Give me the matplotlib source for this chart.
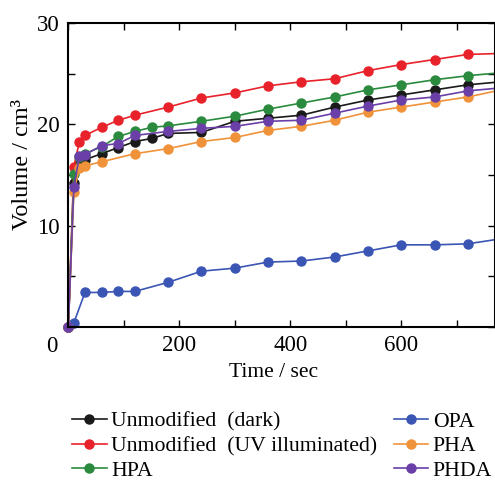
import numpy as np
from matplotlib import pyplot
from matplotlib.ticker import MultipleLocator

pyplot.rcParams['font.family'] = ['Liberation Serif', 'DejaVu Serif']

# gas volume evolved over time for each sample
t_red = [0, 10, 20, 30, 60, 90, 120, 180, 240, 300, 360, 420, 480, 540, 600, 660, 720, 780]
v_red = [0, 15.8, 18.3, 18.9, 19.7, 20.4, 20.9, 21.7, 22.6, 23.1, 23.8, 24.2, 24.5, 25.3,
         25.9, 26.4, 26.9, 27.0]

t_dark = [0, 10, 20, 30, 60, 90, 120, 150, 180, 240, 300, 360, 420, 480, 540, 600, 660, 720, 780]
v_dark = [0, 14.2, 16.2, 16.5, 17.1, 17.7, 18.3, 18.6, 19.1, 19.2, 20.3, 20.6, 20.9, 21.7,
          22.4, 22.9, 23.4, 23.9, 24.2]

t_hpa = [0, 10, 20, 30, 60, 90, 120, 150, 180, 240, 300, 360, 420, 480, 540, 600, 660, 720, 780]
v_hpa = [0, 15.1, 16.8, 17.1, 17.8, 18.8, 19.3, 19.7, 19.85, 20.3, 20.8, 21.5, 22.1, 22.7,
         23.4, 23.9, 24.4, 24.8, 25.1]

t_opa = [0, 10, 30, 60, 90, 120, 180, 240, 300, 360, 420, 480, 540, 600, 660, 720, 780]
v_opa = [0, 0.4, 3.4, 3.4, 3.5, 3.5, 4.4, 5.5, 5.8, 6.4, 6.5, 6.9, 7.5, 8.1, 8.1, 8.2, 8.7]

t_pha = [0, 10, 20, 30, 60, 120, 180, 240, 300, 360, 420, 480, 540, 600, 660, 720, 780]
v_pha = [0, 13.3, 15.7, 15.9, 16.3, 17.1, 17.6, 18.3, 18.7, 19.4, 19.8, 20.4, 21.2, 21.7,
         22.2, 22.7, 23.4]

t_phda = [0, 10, 20, 30, 60, 90, 120, 180, 240, 300, 360, 420, 480, 540, 600, 660, 720, 780]
v_phda = [0, 13.8, 16.9, 17.0, 17.9, 18.1, 18.9, 19.3, 19.6, 19.8, 20.3, 20.4, 21.1, 21.8,
          22.4, 22.7, 23.3, 23.6]

series = [
    ('Unmodified  (dark)', t_dark, v_dark, '#1a1a1a'),
    ('Unmodified  (UV illuminated)', t_red, v_red, '#e8222a'),
    ('HPA', t_hpa, v_hpa, '#2a8a3e'),
    ('OPA', t_opa, v_opa, '#3a55b4'),
    ('PHA', t_pha, v_pha, '#f0923a'),
    ('PHDA', t_phda, v_phda, '#6a3fa8'),
]

fig = pyplot.figure(figsize=(4.95, 4.8), dpi=100)
ax = fig.add_axes([0.138, 0.319, 0.862, 0.633])

for label, t, v, color in series:
    # markers at the origin sit on the spines, so don't clip them
    ax.plot(t, v, '-o', color=color, label=label, lw=1.2, ms=6.5, clip_on=False)

ax.set_xlim(0, 769)
ax.set_ylim(0, 30)
ax.xaxis.set_minor_locator(MultipleLocator(100))
ax.yaxis.set_minor_locator(MultipleLocator(5))
ax.set_xticks([200, 400, 600])
ax.set_yticks([10, 20, 30])
ax.tick_params(which='both', direction='in', top=True, right=True,
               length=5, width=1, labelsize=16.5, pad=6)
for s in ax.spines.values():
    s.set_linewidth(1.5)

# shared origin label in the corner
ax.text(-0.025, -0.03, '0', transform=ax.transAxes, ha='right', va='top', fontsize=16.5)

ax.set_xlabel('Time / sec', fontsize=15.5)
ax.set_ylabel('Volume / cm³', fontsize=17.5)
ax.xaxis.set_label_coords(0.482, -0.12)
ax.yaxis.set_label_coords(-0.082, 0.535)

fig.legend(loc='upper left', bbox_to_anchor=(0.145, 0.143), ncol=2, frameon=False,
           fontsize=15.7, handlelength=1.6, handletextpad=0.2, columnspacing=0.75,
           labelspacing=0.2, borderpad=0, borderaxespad=0)

fig.savefig('out.png', dpi=100)
